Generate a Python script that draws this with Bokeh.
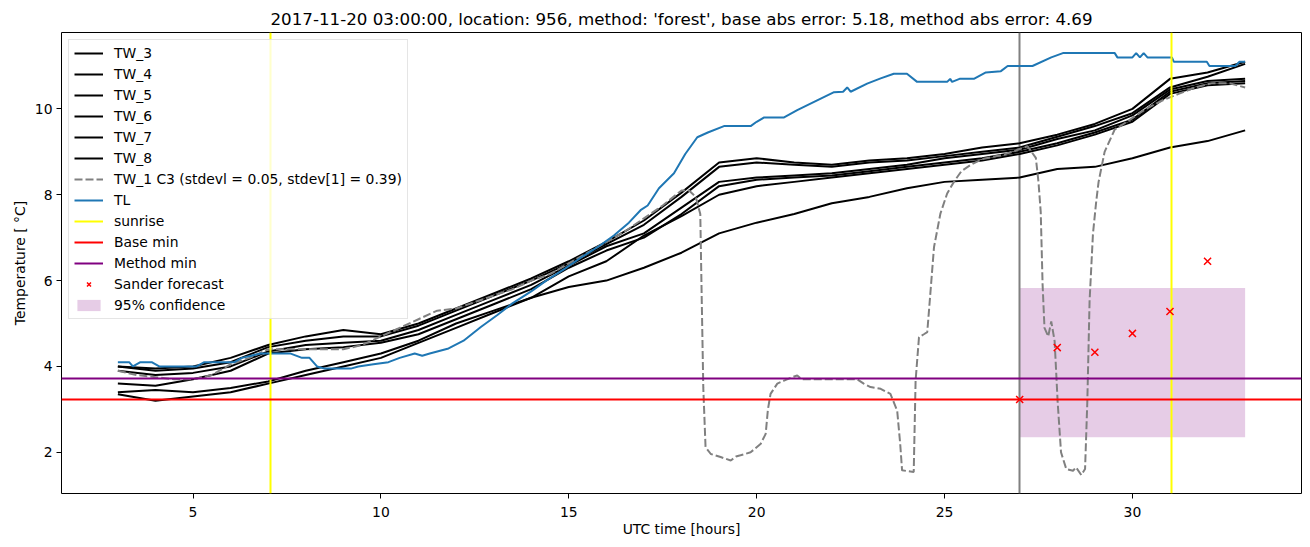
from bokeh.plotting import figure
from bokeh.models import Range1d, Legend, LegendItem, FixedTicker
from bokeh.embed import file_html
from bokeh.resources import INLINE

TITLE = "2017-11-20 03:00:00, location: 956, method: 'forest', base abs error: 5.18, method abs error: 4.69"
FONT = "DejaVu Sans"

# ---------------- data ----------------
hours = [3, 4, 5, 6, 7, 8, 9, 10, 11, 12, 13, 14, 15, 16, 17, 18, 19, 20, 21, 22, 23, 24, 25, 26, 27, 28, 29, 30, 31, 32, 33]
tw_3 = [4.0, 3.95, 4.0, 4.2, 4.5, 4.7, 4.85, 4.75, 5.0, 5.35, 5.7, 6.05, 6.45, 6.9, 7.4, 8.05, 8.75, 8.85, 8.75, 8.7, 8.8, 8.85, 8.95, 9.1, 9.2, 9.4, 9.65, 10.0, 10.7, 10.85, 11.1]
tw_4 = [4.0, 3.9, 3.95, 4.1, 4.45, 4.6, 4.7, 4.7, 4.95, 5.3, 5.65, 6.0, 6.4, 6.85, 7.3, 7.95, 8.65, 8.75, 8.7, 8.65, 8.75, 8.8, 8.9, 9.0, 9.1, 9.35, 9.6, 9.9, 10.5, 10.75, 11.05]
tw_5 = [3.9, 3.8, 3.85, 4.0, 4.35, 4.5, 4.55, 4.6, 4.85, 5.2, 5.55, 5.9, 6.35, 6.8, 7.1, 7.7, 8.3, 8.4, 8.45, 8.5, 8.6, 8.7, 8.85, 8.95, 9.05, 9.3, 9.5, 9.85, 10.45, 10.65, 10.7]
tw_6 = [3.6, 3.55, 3.7, 3.9, 4.3, 4.4, 4.45, 4.55, 4.75, 5.1, 5.45, 5.8, 6.3, 6.7, 7.0, 7.55, 8.2, 8.35, 8.4, 8.45, 8.55, 8.65, 8.75, 8.85, 9.0, 9.2, 9.45, 9.75, 10.4, 10.6, 10.65]
tw_7 = [3.4, 3.45, 3.4, 3.5, 3.65, 3.9, 4.1, 4.3, 4.6, 5.0, 5.3, 5.6, 6.1, 6.45, 7.05, 7.5, 8.0, 8.2, 8.3, 8.4, 8.5, 8.6, 8.7, 8.8, 8.95, 9.15, 9.4, 9.7, 10.35, 10.55, 10.6]
tw_8 = [3.35, 3.2, 3.3, 3.4, 3.6, 3.8, 4.0, 4.2, 4.55, 4.9, 5.25, 5.6, 5.85, 6.0, 6.3, 6.65, 7.1, 7.35, 7.55, 7.8, 7.95, 8.15, 8.3, 8.35, 8.4, 8.6, 8.65, 8.85, 9.1, 9.25, 9.5]

tw1_hours = [3.0, 3.5, 4.0, 4.5, 5.0, 5.5, 6.0, 6.5, 7.0, 7.5, 8.0, 8.5, 9.0, 9.5, 10.0, 10.5, 11.0, 11.5, 12.0, 12.5,
             13.0, 13.5, 14.0, 14.5, 15.0, 15.5, 16.0, 16.5, 17.0, 17.5, 18.0, 18.2, 18.38, 18.5, 18.53, 18.58, 18.64,
             18.78, 19.04, 19.31, 19.45, 19.57, 19.84, 20.11, 20.24, 20.3, 20.37, 20.55, 20.73, 20.95, 21.08, 21.2,
             22.68, 22.85, 23.03, 23.3, 23.56, 23.74, 23.82, 23.87, 24.18, 24.23, 24.32, 24.45, 24.54, 24.58, 24.72,
             24.89, 25.07, 25.25, 25.45, 25.7, 26.0, 26.6, 27.21, 27.43, 27.5, 27.56, 27.61, 27.66, 27.76, 27.84,
             27.93, 28.01, 28.1, 28.24, 28.42, 28.5, 28.64, 28.74, 28.8, 28.86, 28.95, 29.04, 29.1, 29.26, 29.53,
             29.89, 30.34, 30.78, 31.23, 31.67, 32.12, 32.57, 33.0]
tw1_temp = [3.9, 3.8, 3.75, 3.7, 3.7, 3.8, 4.05, 4.2, 4.4, 4.4, 4.4, 4.4, 4.4, 4.5, 4.7, 4.9, 5.1, 5.3, 5.35, 5.5,
            5.65, 5.8, 6.0, 6.15, 6.4, 6.65, 6.9, 7.15, 7.45, 7.75, 8.1, 8.1, 7.95, 7.55, 6.0, 3.5, 2.12,
            1.96, 1.89, 1.81, 1.9, 1.93, 2.0, 2.2, 2.43, 3.0, 3.36, 3.6, 3.67, 3.75, 3.79, 3.7,
            3.7, 3.6, 3.52, 3.48, 3.36, 2.97, 2.2, 1.58, 1.54, 3.67, 4.68, 4.75, 4.8, 5.23, 6.78,
            7.56, 8.03, 8.3, 8.55, 8.7, 8.83, 8.94, 9.13, 8.86, 8.3, 7.6, 5.9, 4.9, 4.7, 5.05,
            4.59, 3.18, 2.0, 1.61, 1.57, 1.65, 1.47, 1.61, 3.18, 5.52, 7.09, 7.87, 8.3, 9.0, 9.52,
            9.72, 9.99, 10.19, 10.35, 10.5, 10.6, 10.6, 10.5]

tl_hours = [3.0, 3.3, 3.4, 3.6, 3.9, 4.1, 5.1, 5.3, 6.1, 6.3, 6.8, 7.6, 7.9, 8.1, 8.3, 8.5, 9.2, 9.4, 9.8, 10.2,
            10.5, 10.9, 11.1, 11.3, 11.8, 12.2, 12.66, 13.1, 13.5, 14.0, 14.4, 14.9, 15.3, 15.8, 16.2, 16.6, 16.91,
            17.1, 17.4, 17.8, 18.1, 18.42, 18.7, 19.13, 19.84, 20.0, 20.2, 20.73, 21.08, 21.61, 22.06, 22.3, 22.41,
            22.5, 22.94, 23.3, 23.65, 24.0, 24.27, 25.07, 25.15, 25.2, 25.4, 25.78, 26.1, 26.5, 26.68, 27.34, 27.84,
            28.15, 29.53, 29.6, 30.0, 30.1, 30.2, 30.3, 30.4, 31.05, 31.1, 31.98, 32.05, 32.74, 32.85, 33.0]
tl_temp = [4.1, 4.1, 4.0, 4.1, 4.1, 4.0, 4.0, 4.1, 4.1, 4.2, 4.3, 4.3, 4.2, 4.2, 4.0, 3.95, 3.95, 4.0, 4.05, 4.1,
           4.2, 4.3, 4.25, 4.3, 4.42, 4.6, 4.92, 5.2, 5.47, 5.75, 6.0, 6.28, 6.52, 6.8, 7.05, 7.35, 7.64,
           7.75, 8.15, 8.5, 8.95, 9.34, 9.45, 9.6, 9.6, 9.7, 9.8, 9.8, 9.97, 10.2, 10.39, 10.4, 10.5,
           10.4, 10.59, 10.71, 10.82, 10.82, 10.63, 10.63, 10.7, 10.63, 10.7, 10.7, 10.85, 10.88, 11.0, 11.0, 11.2,
           11.3, 11.3, 11.2, 11.2, 11.3, 11.2, 11.3, 11.2, 11.2, 11.1, 11.1, 11.0, 11.0, 11.1, 11.1]

sunrise_hours = [7.05, 31.05]
forecast_start = [27.0]
base_min = [3.23]
method_min = [3.72]
forecast_hours = [27, 28, 29, 30, 31, 32]
forecast_temp = [3.23, 4.44, 4.33, 4.77, 5.28, 6.45]
conf_hours = [27, 33]
conf_low = [2.35, 2.35]
conf_high = [5.83, 5.83]

x_limits = (1.5, 34.5)
y_limits = (1.04, 11.78)
x_ticks = [5, 10, 15, 20, 25, 30]
y_ticks = [2, 4, 6, 8, 10]

# ---------------- figure ----------------
p = figure(width=1310, height=547, output_backend="svg", toolbar_location=None,
           x_range=Range1d(*x_limits), y_range=Range1d(*y_limits),
           min_border_left=61, min_border_right=9, min_border_top=32, min_border_bottom=54,
           title=TITLE)
p.title.text_font = FONT
p.title.text_font_size = "16.7px"
p.title.text_font_style = "normal"
p.title.align = "center"
p.title.standoff = 8
p.title.text_color = "black"

p.xgrid.visible = False
p.ygrid.visible = False
p.outline_line_color = "black"
p.outline_line_width = 1
p.outline_line_alpha = 1

for ax in (p.xaxis[0], p.yaxis[0]):
    ax.axis_line_color = None
    ax.major_tick_in = 0
    ax.major_tick_out = 5
    ax.major_tick_line_width = 1
    ax.minor_tick_line_color = None
    ax.major_label_text_font = FONT
    ax.major_label_text_font_size = "13.9px"
    ax.major_label_text_color = "black"
    ax.axis_label_text_font = FONT
    ax.axis_label_text_font_size = "13.9px"
    ax.axis_label_text_font_style = "normal"
    ax.axis_label_text_color = "black"

p.xaxis.major_label_standoff = 8
p.xaxis.axis_label_standoff = 1
p.yaxis.major_label_standoff = 4
p.yaxis.axis_label_standoff = 4

p.xaxis.ticker = FixedTicker(ticks=x_ticks)
p.yaxis.ticker = FixedTicker(ticks=y_ticks)
p.xaxis.axis_label = "UTC time [hours]"
p.yaxis.axis_label = "Temperature [ °C]"

# confidence band (behind)
r_conf = p.varea(x=conf_hours, y1=conf_low, y2=conf_high, fill_color="purple", fill_alpha=0.2)

# forecast issue time
p.vspan(x=forecast_start, line_color="gray", line_width=2)

tw_series = [("TW_3", tw_3), ("TW_4", tw_4), ("TW_5", tw_5), ("TW_6", tw_6), ("TW_7", tw_7), ("TW_8", tw_8)]
items = []
for name, vals in tw_series:
    r = p.line(hours, vals, line_color="black", line_width=2)
    items.append(LegendItem(label=name, renderers=[r]))

r_tw1 = p.line(tw1_hours, tw1_temp, line_color="gray", line_width=2, line_dash="8 3")
items.append(LegendItem(label="TW_1 C3 (stdevl = 0.05, stdev[1] = 0.39)", renderers=[r_tw1]))

r_tl = p.line(tl_hours, tl_temp, line_color="#1f77b4", line_width=2)
items.append(LegendItem(label="TL", renderers=[r_tl]))

r_sun = p.vspan(x=sunrise_hours, line_color="yellow", line_width=2)
items.append(LegendItem(label="sunrise", renderers=[r_sun]))

r_base = p.hspan(y=base_min, line_color="red", line_width=2)
items.append(LegendItem(label="Base min", renderers=[r_base]))

r_meth = p.hspan(y=method_min, line_color="purple", line_width=2)
items.append(LegendItem(label="Method min", renderers=[r_meth]))

r_fc = p.scatter(forecast_hours, forecast_temp, marker="x", size=10, line_color="red", line_width=1.5)
items.append(LegendItem(label="Sander forecast", renderers=[r_fc]))

items.append(LegendItem(label="95% confidence", renderers=[r_conf]))

legend = Legend(items=items, location="top_left")
legend.margin = 7
legend.padding = 5
legend.spacing = 5
legend.glyph_width = 29
legend.glyph_height = 14
legend.label_height = 14
legend.label_standoff = 11
legend.label_text_font = FONT
legend.label_text_font_size = "13.9px"
legend.label_text_color = "black"
legend.border_line_color = "#cccccc"
legend.border_line_width = 1
legend.background_fill_color = "white"
legend.background_fill_alpha = 0.8
p.add_layout(legend)

open("out.html", "w").write(file_html(p, INLINE))
